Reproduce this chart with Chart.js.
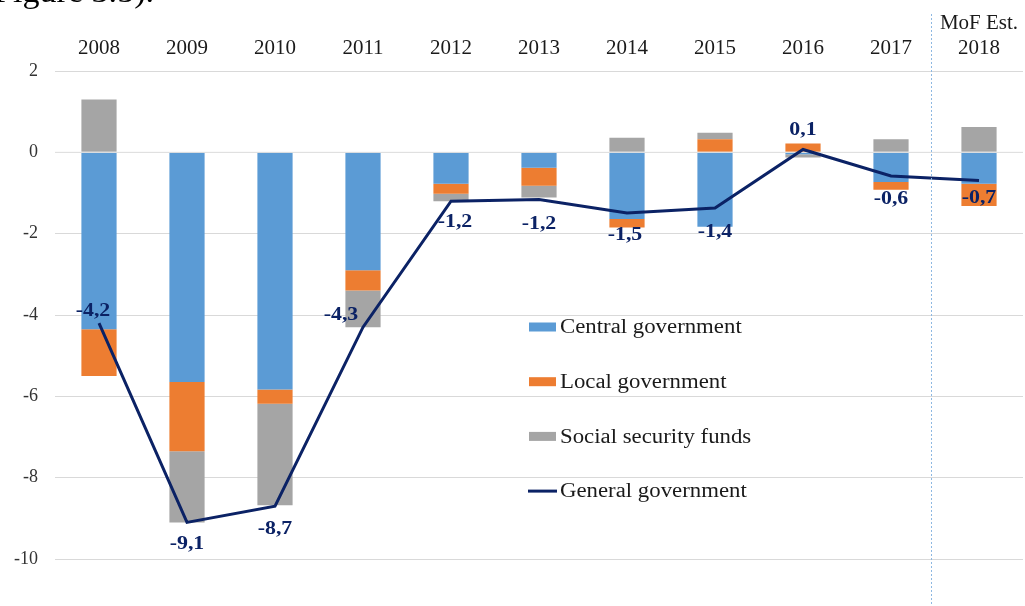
<!DOCTYPE html>
<html>
<head>
<meta charset="utf-8">
<script src="https://cdn.jsdelivr.net/npm/chart.js@4"></script>
<style>
  html, body { margin: 0; padding: 0; background: #fff; }
  #wrap { position: relative; width: 1025px; height: 606px; overflow: hidden; }
  #caption { position: absolute; left: -6px; top: -26px; font: 31px "Liberation Serif", serif; color: #000; transform: scaleX(1.1); transform-origin: left top; }
</style>
</head>
<body>
<div id="wrap">
  <canvas id="myChart"></canvas>
  <div id="caption">Figure 3.5).</div>
</div>
<script>
// categories
const years = ['2008', '2009', '2010', '2011', '2012', '2013', '2014', '2015', '2016', '2017', ['MoF Est.', '2018']];

// series (% of GDP)
const central = [-4.35, -5.65, -5.83, -2.9, -0.77, -0.38, -1.64, -1.83, -0.05, -0.73, -0.77];
const local = [-1.15, -1.7, -0.35, -0.5, -0.25, -0.44, -0.21, 0.32, 0.22, -0.19, -0.55];
const social = [1.3, -1.75, -2.5, -0.9, -0.18, -0.29, 0.36, 0.16, -0.08, 0.32, 0.62];
const general = [-4.2, -9.1, -8.7, -4.3, -1.2, -1.16, -1.49, -1.37, 0.07, -0.58, -0.69];

// y axis ticks
const yMin = -10;
const yMax = 2;
const yStep = 2;

// label offsets for the line values (pixels)
const labelShift = [[-6, -12], [0, 22], [0, 23], [-22, -12], [4, 21], [0, 25], [-2, 22], [0, 24], [0, -19], [0, 23], [0, 18]];

const navy = '#0b2265';

// text drawn a bit wider, like the original export
function wideText(ctx, txt, x, y, stretch) {
    ctx.save();
    ctx.translate(x, y);
    ctx.scale(stretch, 1);
    ctx.fillText(txt, 0, 0);
    ctx.restore();
}

const zeroLine = {
    id: 'zeroLine',
    beforeDatasetDraw(chart, args) {
        if (args.index !== 3) return;
        const ctx = chart.ctx;
        const y = chart.scales.y.getPixelForValue(0);
        ctx.save();
        ctx.strokeStyle = '#e2e2e2';
        ctx.lineWidth = 1;
        ctx.beginPath();
        ctx.moveTo(chart.chartArea.left, y);
        ctx.lineTo(chart.chartArea.right, y);
        ctx.stroke();
        ctx.restore();
    }
};

const extras = {
    id: 'extras',
    afterDraw(chart) {
        const ctx = chart.ctx;
        const x = chart.scales.x;
        ctx.save();

        // separator before the estimate
        const sx = Math.round((x.getPixelForValue(9) + x.getPixelForValue(10)) / 2) - 3.5;
        ctx.strokeStyle = '#8db8e2';
        ctx.lineWidth = 1;
        ctx.setLineDash([2, 2]);
        ctx.beginPath();
        ctx.moveTo(sx, 14);
        ctx.lineTo(sx, 606);
        ctx.stroke();
        ctx.setLineDash([]);

        // value labels of the line
        const meta = chart.getDatasetMeta(3);
        ctx.fillStyle = navy;
        ctx.font = 'bold 19px "Liberation Serif", serif';
        ctx.textAlign = 'center';
        ctx.textBaseline = 'middle';
        meta.data.forEach((pt, i) => {
            const txt = general[i].toFixed(1).replace('.', ',');
            wideText(ctx, txt, pt.x + labelShift[i][0], pt.y + labelShift[i][1], 1.15);
        });

        // legend
        const items = chart.data.datasets;
        ctx.font = '20px "Liberation Serif", serif';
        ctx.textAlign = 'left';
        items.forEach((ds, i) => {
            const cy = 327 + i * 54.7;
            if (ds.type === 'line') {
                ctx.strokeStyle = ds.borderColor;
                ctx.lineWidth = 3;
                ctx.beginPath();
                ctx.moveTo(528, cy);
                ctx.lineTo(557, cy);
                ctx.stroke();
            } else {
                ctx.fillStyle = ds.backgroundColor;
                ctx.fillRect(529, cy - 4.5, 27, 9);
            }
            ctx.fillStyle = '#1a1a1a';
            wideText(ctx, ds.label, 560, cy + 1, 1.14);
        });
        ctx.restore();
    }
};

const data = {
    labels: years,
    datasets: [{
        label: 'Central government',
        backgroundColor: '#5b9bd5',
        data: central,
        stack: 'bars',
        order: 1
    }, {
        label: 'Local government',
        backgroundColor: '#ed7d31',
        data: local,
        stack: 'bars',
        order: 1
    }, {
        label: 'Social security funds',
        backgroundColor: '#a5a5a5',
        data: social,
        stack: 'bars',
        order: 1
    }, {
        type: 'line',
        label: 'General government',
        borderColor: navy,
        backgroundColor: navy,
        borderWidth: 3,
        pointRadius: 0,
        tension: 0,
        data: general,
        stack: 'line',
        order: 0
    }]
};

const config = {
    type: 'bar',
    data: data,
    options: {
        responsive: true,
        maintainAspectRatio: false,
        animation: false,
        barPercentage: 0.4,
        categoryPercentage: 1,
        layout: {
            padding: { top: 0, right: 2, bottom: 47, left: 0 }
        },
        plugins: {
            legend: { display: false },
            tooltip: { enabled: false }
        },
        scales: {
            x: {
                position: 'top',
                stacked: true,
                grid: { display: false, drawTicks: false },
                border: { display: false },
                ticks: {
                    color: '#1a1a1a',
                    padding: 10,
                    maxRotation: 0,
                    font: { family: '"Liberation Serif", serif', size: 21, lineHeight: 1.2 }
                },
                afterFit(scale) {
                    scale.height = 71;
                    scale.paddingLeft = 0;
                    scale.paddingRight = 0;
                }
            },
            y: {
                stacked: true,
                min: yMin,
                max: yMax,
                grid: { color: '#d9d9d9', drawTicks: false },
                border: { display: false },
                ticks: {
                    stepSize: yStep,
                    color: '#333',
                    padding: 17,
                    font: { family: '"Liberation Serif", serif', size: 18 }
                },
                afterFit(scale) { scale.width = 55; }
            }
        }
    },
    plugins: [zeroLine, extras]
};

const myChart = new Chart(
    document.getElementById('myChart'),
    config
);
</script>
</body>
</html>
